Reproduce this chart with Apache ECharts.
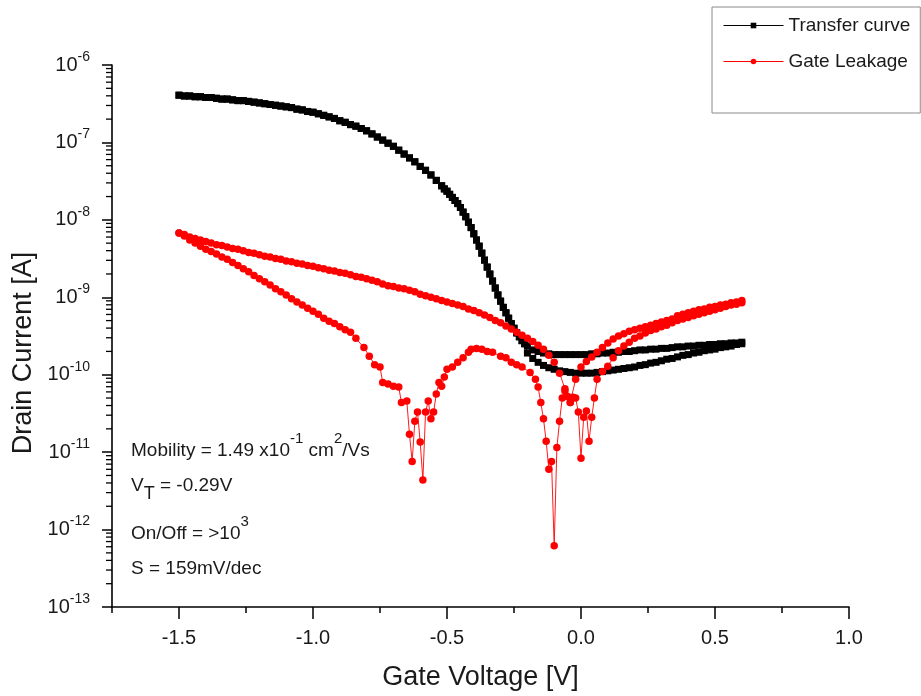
<!DOCTYPE html>
<html><head><meta charset="utf-8">
<script src="https://cdn.jsdelivr.net/npm/echarts@6/dist/echarts.min.js"></script>
<style>html,body{margin:0;padding:0;background:#fff}#c{width:921px;height:696px}</style>
</head><body><div id="c"></div>
<script>
const FONT = '"Liberation Sans", Arial, sans-serif';

// Transfer curve voltage points (V)
const transferV = [
-1.50,-1.48,-1.46,-1.44,-1.42,-1.40,-1.38,-1.36,-1.34,-1.32,
-1.30,-1.28,-1.26,-1.24,-1.22,-1.20,-1.18,-1.16,-1.14,-1.12,
-1.10,-1.08,-1.06,-1.04,-1.02,-1.00,-0.98,-0.96,-0.94,-0.92,
-0.90,-0.88,-0.86,-0.84,-0.82,-0.80,-0.78,-0.76,-0.74,-0.72,
-0.70,-0.68,-0.66,-0.64,-0.62,-0.60,-0.58,-0.56,-0.54,-0.52,
-0.51,-0.50,-0.49,-0.48,-0.47,-0.46,-0.45,-0.44,-0.43,-0.42,
-0.41,-0.40,-0.39,-0.38,-0.37,-0.36,-0.35,-0.34,-0.33,-0.32,
-0.31,-0.30,-0.29,-0.28,-0.27,-0.26,-0.25,-0.24,-0.23,-0.22,
-0.21,
-0.20,-0.18,-0.16,-0.14,-0.12,-0.10,-0.08,-0.06,-0.04,-0.02,
0.00,0.02,0.04,0.06,0.08,0.10,0.12,0.14,0.16,0.18,
0.20,0.22,0.24,0.26,0.28,0.30,0.32,0.34,0.36,0.38,
0.40,0.42,0.44,0.46,0.48,0.50,0.52,0.54,0.56,0.58,
0.60];

// Transfer curve, log10(I [A])
const transferFwdLog = [
-6.39,-6.40,-6.40,-6.41,-6.41,-6.42,-6.42,-6.43,-6.44,-6.44,
-6.45,-6.46,-6.46,-6.47,-6.48,-6.49,-6.50,-6.51,-6.52,-6.53,
-6.54,-6.55,-6.57,-6.58,-6.60,-6.61,-6.63,-6.65,-6.67,-6.69,
-6.72,-6.74,-6.77,-6.79,-6.82,-6.85,-6.89,-6.93,-6.97,-7.01,
-7.05,-7.10,-7.15,-7.20,-7.25,-7.31,-7.36,-7.42,-7.49,-7.56,
-7.60,-7.63,-7.67,-7.71,-7.75,-7.79,-7.84,-7.90,-7.96,-8.03,
-8.10,-8.18,-8.26,-8.34,-8.43,-8.52,-8.61,-8.70,-8.79,-8.88,
-8.97,-9.05,-9.13,-9.20,-9.27,-9.34,-9.40,-9.46,-9.51,-9.56,
-9.60,
-9.72,-9.79,-9.84,-9.88,-9.91,-9.93,-9.95,-9.96,-9.97,-9.98,
-9.98,-9.98,-9.98,-9.97,-9.96,-9.95,-9.94,-9.93,-9.92,-9.91,
-9.90,-9.88,-9.87,-9.85,-9.84,-9.82,-9.80,-9.79,-9.77,-9.75,
-9.74,-9.72,-9.71,-9.69,-9.68,-9.67,-9.65,-9.64,-9.63,-9.61,
-9.60];
const transferRevLog = [
-6.39,-6.40,-6.40,-6.41,-6.41,-6.42,-6.42,-6.43,-6.44,-6.44,
-6.45,-6.46,-6.46,-6.47,-6.48,-6.49,-6.50,-6.51,-6.52,-6.53,
-6.54,-6.55,-6.57,-6.58,-6.60,-6.61,-6.63,-6.65,-6.67,-6.69,
-6.72,-6.74,-6.77,-6.79,-6.82,-6.85,-6.89,-6.93,-6.97,-7.01,
-7.05,-7.10,-7.15,-7.20,-7.25,-7.31,-7.36,-7.42,-7.49,-7.56,
-7.60,-7.63,-7.67,-7.71,-7.75,-7.79,-7.84,-7.90,-7.96,-8.03,
-8.10,-8.18,-8.26,-8.34,-8.43,-8.52,-8.61,-8.70,-8.79,-8.88,
-8.97,-9.05,-9.13,-9.20,-9.27,-9.34,-9.40,-9.46,-9.51,-9.56,
-9.60,
-9.63,-9.68,-9.70,-9.72,-9.73,-9.74,-9.74,-9.74,-9.74,-9.74,
-9.74,-9.74,-9.73,-9.73,-9.72,-9.72,-9.71,-9.71,-9.70,-9.70,
-9.69,-9.68,-9.68,-9.67,-9.67,-9.66,-9.66,-9.65,-9.64,-9.64,
-9.63,-9.63,-9.62,-9.62,-9.61,-9.61,-9.60,-9.60,-9.59,-9.59,
-9.58];

// Gate leakage, smooth (reverse) branch: voltage points (V) and log10(I [A])
const leakRevV = [
-1.50,-1.48,-1.46,-1.44,-1.42,-1.40,-1.38,-1.36,-1.34,-1.32,
-1.30,-1.28,-1.26,-1.24,-1.22,-1.20,-1.18,-1.16,-1.14,-1.12,
-1.10,-1.08,-1.06,-1.04,-1.02,-1.00,-0.98,-0.96,-0.94,-0.92,
-0.90,-0.88,-0.86,-0.84,-0.82,-0.80,-0.78,-0.76,-0.74,-0.72,
-0.70,-0.68,-0.66,-0.64,-0.62,-0.60,-0.58,-0.56,-0.54,-0.52,
-0.50,-0.48,-0.46,-0.44,-0.42,-0.40,-0.38,-0.36,-0.34,-0.32,
-0.30,-0.28,-0.26,-0.24,-0.22,-0.20,-0.18,-0.16,-0.14,-0.12,
-0.10,-0.08,-0.06,-0.04,-0.02,0.00,0.02,0.04,0.06,0.08,
0.10,0.12,0.14,0.16,0.18,0.20,0.22,0.24,0.26,0.28,
0.30,0.32,0.34,0.36,0.38,0.40,0.42,0.44,0.46,0.48,
0.50,0.52,0.54,0.56,0.58,0.60];
const leakRevLog = [
-8.17,-8.19,-8.22,-8.24,-8.26,-8.28,-8.30,-8.32,-8.33,-8.35,
-8.37,-8.38,-8.40,-8.42,-8.43,-8.45,-8.47,-8.48,-8.50,-8.51,
-8.53,-8.54,-8.56,-8.57,-8.59,-8.60,-8.62,-8.63,-8.65,-8.66,
-8.68,-8.69,-8.71,-8.73,-8.74,-8.76,-8.78,-8.80,-8.83,-8.85,
-8.86,-8.88,-8.89,-8.91,-8.93,-8.96,-8.98,-9.00,-9.02,-9.04,
-9.06,-9.08,-9.10,-9.12,-9.15,-9.17,-9.20,-9.23,-9.26,-9.30,
-9.33,-9.37,-9.41,-9.45,-9.49,-9.53,-9.57,-9.62,-9.67,-9.75,
-9.84,-9.98,-10.18,-10.36,-10.06,-9.90,-9.83,-9.77,-9.71,-9.65,
-9.59,-9.54,-9.50,-9.47,-9.44,-9.42,-9.40,-9.38,-9.36,-9.34,
-9.32,-9.30,-9.28,-9.24,-9.22,-9.20,-9.18,-9.16,-9.15,-9.13,
-9.12,-9.10,-9.09,-9.07,-9.06,-9.04];

// Gate leakage, forward branch with the dips
const leakFwdV = [
-1.50,-1.48,-1.46,-1.44,-1.42,-1.40,-1.38,-1.36,-1.34,-1.32,
-1.30,-1.28,-1.26,-1.24,-1.22,-1.20,-1.18,-1.16,-1.14,-1.12,
-1.10,-1.08,-1.06,-1.04,-1.02,-1.00,-0.98,-0.96,-0.94,-0.92,
-0.90,-0.88,-0.86,-0.84,-0.81,-0.79,-0.77,-0.75,-0.74,-0.72,
-0.70,-0.68,-0.67,-0.65,-0.64,-0.63,-0.62,-0.61,-0.60,-0.59,
-0.58,-0.57,-0.56,-0.55,-0.54,-0.53,-0.52,-0.51,-0.50,-0.48,
-0.46,-0.44,-0.42,-0.41,-0.39,-0.37,-0.35,-0.33,-0.30,-0.28,
-0.26,-0.24,-0.22,-0.19,-0.17,-0.16,-0.15,-0.14,-0.13,-0.12,
-0.11,-0.10,-0.09,-0.08,-0.07,-0.06,-0.05,-0.04,-0.03,-0.02,
-0.01,0.00,0.01,0.02,0.03,0.04,0.05,0.06,0.08,0.10,
0.12,0.14,0.16,0.18,0.20,0.22,0.24,0.26,0.28,0.30,
0.32,0.34,0.36,0.38,0.40,0.42,0.44,0.46,0.48,0.50,
0.52,0.54,0.56,0.58,0.60];
const leakFwdLog = [
-8.17,-8.21,-8.26,-8.30,-8.34,-8.38,-8.41,-8.44,-8.48,-8.51,
-8.55,-8.59,-8.63,-8.67,-8.72,-8.76,-8.80,-8.84,-8.89,-8.93,
-8.97,-9.02,-9.06,-9.10,-9.14,-9.18,-9.22,-9.27,-9.31,-9.34,
-9.38,-9.42,-9.45,-9.53,-9.65,-9.76,-9.87,-9.90,-10.10,-10.12,
-10.15,-10.16,-10.36,-10.34,-10.77,-11.12,-10.60,-10.48,-10.87,-11.36,
-10.48,-10.34,-10.57,-10.48,-10.25,-10.10,-10.15,-10.03,-9.93,-9.90,
-9.84,-9.78,-9.71,-9.67,-9.66,-9.67,-9.70,-9.71,-9.76,-9.78,
-9.84,-9.87,-9.90,-9.97,-10.06,-10.16,-10.36,-10.57,-10.86,-11.22,
-11.12,-12.21,-10.94,-10.60,-10.30,-10.21,-10.28,-10.36,-10.29,-10.30,
-10.48,-11.08,-10.55,-10.47,-10.86,-10.55,-10.30,-10.06,-9.96,-9.89,
-9.78,-9.69,-9.63,-9.58,-9.53,-9.50,-9.46,-9.43,-9.41,-9.38,
-9.36,-9.33,-9.30,-9.28,-9.26,-9.24,-9.22,-9.20,-9.18,-9.16,
-9.14,-9.12,-9.10,-9.09,-9.07];

const seriesNames = ['Transfer curve', 'Gate Leakage'];
const xTickValues = [-1.5, -1.0, -0.5, 0.0, 0.5, 1.0];
const yDecades = [-13, -12, -11, -10, -9, -8, -7, -6];

const toPts = (vs, logs) => vs.map((v, i) => [v, Math.pow(10, logs[i])]);
const transferData = toPts(transferV, transferFwdLog).concat(toPts(transferV, transferRevLog).reverse());
const leakData = toPts(leakFwdV, leakFwdLog).concat(toPts(leakRevV, leakRevLog).reverse());

// minor log ticks (2..9 x 10^n)
const yMinor = [];
for (let i = 0; i < yDecades.length - 1; i++) {
  for (let m = 2; m <= 9; m++) yMinor.push(m * Math.pow(10, yDecades[i]));
}

const chart = echarts.init(document.getElementById('c'), null, {renderer: 'canvas'});
const axisCol = '#000';
const textCol = '#1a1a1a';

const option = {
  animation: false,
  backgroundColor: '#fff',
  textStyle: {fontFamily: FONT},
  grid: [
    {left: 112, right: 72, top: 65, bottom: 88},
    {left: 179, right: 72, top: 65, bottom: 88}
  ],
  xAxis: [
    {
      gridIndex: 0, type: 'value', min: -1.75, max: 1.0, interval: 0.25,
      axisLine: {onZero: false, lineStyle: {color: axisCol, width: 1.6}},
      axisTick: {length: 6, lineStyle: {color: axisCol, width: 1.5}},
      axisLabel: {show: false},
      splitLine: {show: false},
      name: 'Gate Voltage [V]', nameLocation: 'middle', nameGap: 57,
      nameTextStyle: {fontSize: 27, color: textCol, fontFamily: FONT}
    },
    {
      gridIndex: 1, type: 'value', min: xTickValues[0], max: xTickValues[xTickValues.length - 1], interval: 0.5,
      axisLine: {show: false, onZero: false},
      axisTick: {length: 11, lineStyle: {color: axisCol, width: 1.5}},
      axisLabel: {fontSize: 20, color: textCol, margin: 20, fontFamily: FONT,
        formatter: v => v.toFixed(1)},
      splitLine: {show: false}
    }
  ],
  yAxis: [
    {
      gridIndex: 0, type: 'log', logBase: 10, min: 1e-13, max: 1e-6, splitNumber: 7,
      axisLine: {show: true, onZero: false, lineStyle: {color: axisCol, width: 1.6}},
      axisTick: {show: true, length: 10, lineStyle: {color: axisCol, width: 1.5}},
      splitLine: {show: false},
      axisLabel: {
        margin: 22, color: textCol, fontFamily: FONT,
        formatter: v => '{b|10}{s|' + Math.round(Math.log10(v)) + '}',
        rich: {
          b: {fontSize: 20, lineHeight: 30, verticalAlign: 'middle', color: textCol, fontFamily: FONT},
          s: {fontSize: 14, lineHeight: 14, verticalAlign: 'top', color: textCol, fontFamily: FONT}
        }
      },
      name: 'Drain Current [A]', nameLocation: 'middle', nameGap: 73,
      nameTextStyle: {fontSize: 27, color: textCol, fontFamily: FONT, padding: [0, 34, 0, 0]}
    },
    {gridIndex: 1, type: 'log', logBase: 10, min: 1e-13, max: 1e-6, show: false}
  ],
  legend: {
    data: seriesNames, orient: 'vertical', left: 712, top: 7,
    padding: [9, 10, 42, 11], itemGap: 17, itemWidth: 60, itemHeight: 7,
    borderColor: '#8a8a8a', borderWidth: 1, backgroundColor: '#fff',
    lineStyle: {width: 1},
    textStyle: {fontSize: 19, color: textCol, fontFamily: FONT}
  },
  series: [
    {
      type: 'custom', xAxisIndex: 0, yAxisIndex: 0, silent: true, clip: false,
      data: yMinor.map(v => [-1.75, v]),
      renderItem: (p, api) => {
        const c = api.coord([api.value(0), api.value(1)]);
        return {type: 'line', shape: {x1: c[0] - 6, y1: c[1], x2: c[0], y2: c[1]},
          style: {stroke: axisCol, lineWidth: 1.3}};
      }
    },
    {
      name: seriesNames[0], type: 'line', xAxisIndex: 0, yAxisIndex: 0,
      data: transferData, symbol: 'rect', symbolSize: 7, showSymbol: true,
      lineStyle: {color: '#000', width: 1}, itemStyle: {color: '#000'}
    },
    {
      name: seriesNames[1], type: 'line', xAxisIndex: 0, yAxisIndex: 0,
      data: leakData, symbol: 'circle', symbolSize: 7.5, showSymbol: true,
      lineStyle: {color: '#ff0000', width: 0.9}, itemStyle: {color: '#ff0000'}
    }
  ],
  graphic: [
    {type: 'text', x: 131, y: 431, silent: true, style: {
      text: '{n|Mobility = 1.49 x10}{s|-1}{n| cm}{s|2}{n|/Vs}', fill: textCol, verticalAlign: 'top', align: 'left',
      rich: {n: {fontSize: 19, lineHeight: 40, verticalAlign: 'middle', fontFamily: FONT, fill: textCol},
             s: {fontSize: 15, lineHeight: 15, verticalAlign: 'top', fontFamily: FONT, fill: textCol}}}},
    {type: 'text', x: 131, y: 469, silent: true, style: {
      text: '{n|V}{t|T}{n| = -0.29V}', fill: textCol, verticalAlign: 'top', align: 'left',
      rich: {n: {fontSize: 19, lineHeight: 34, verticalAlign: 'middle', fontFamily: FONT, fill: textCol},
             t: {fontSize: 18, lineHeight: 18, verticalAlign: 'bottom', fontFamily: FONT, fill: textCol}}}},
    {type: 'text', x: 131, y: 514, silent: true, style: {
      text: '{n|On/Off = >10}{s|3}', fill: textCol, verticalAlign: 'top', align: 'left',
      rich: {n: {fontSize: 19, lineHeight: 40, verticalAlign: 'middle', fontFamily: FONT, fill: textCol},
             s: {fontSize: 15, lineHeight: 15, verticalAlign: 'top', fontFamily: FONT, fill: textCol}}}},
    {type: 'text', x: 131, y: 569, silent: true, style: {
      text: 'S = 159mV/dec', fill: textCol, verticalAlign: 'middle', align: 'left',
      fontSize: 19, fontFamily: FONT}}
  ]
};
chart.setOption(option);
</script>
</body></html>
